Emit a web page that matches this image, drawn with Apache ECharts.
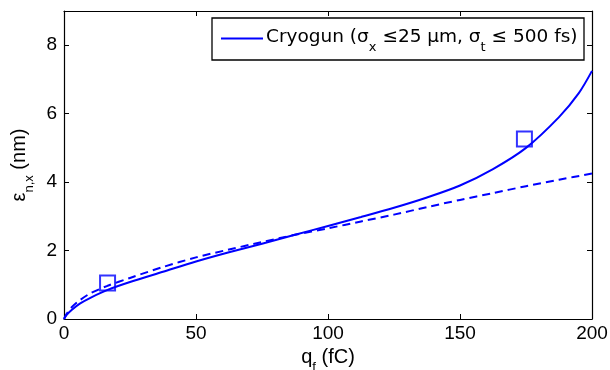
<!DOCTYPE html>
<html>
<head>
<meta charset="utf-8">
<script src="https://cdn.jsdelivr.net/npm/echarts@6/dist/echarts.min.js"></script>
<style>html,body{margin:0;padding:0;background:#fff}#c{width:610px;height:370px}</style>
</head>
<body>
<div id="c"></div>
<script>
var solidQ = [0, 1, 3, 6, 10, 16.5, 25, 37.5, 50, 62.5, 75, 87.5, 100, 112.5, 125, 137.5, 150, 162.5, 175, 187.5, 195, 200];
var solidE = [0, 0.12, 0.27, 0.45, 0.62, 0.85, 1.08, 1.38, 1.68, 1.95, 2.2, 2.46, 2.72, 2.98, 3.25, 3.55, 3.9, 4.38, 5.0, 5.9, 6.6, 7.25];
var dashQ = [0, 1, 3, 6, 10, 16.5, 25, 37.5, 50, 62.5, 75, 87.5, 100, 112.5, 125, 137.5, 150, 162.5, 175, 187.5, 200];
var dashE = [0, 0.15, 0.35, 0.55, 0.75, 0.97, 1.2, 1.52, 1.8, 2.03, 2.25, 2.46, 2.65, 2.85, 3.05, 3.27, 3.48, 3.68, 3.88, 4.07, 4.25];
var markQ = [16.5, 174.4];
var markE = [1.05, 5.26];
var xTicks = [0, 50, 100, 150, 200];
var yTicks = [0, 2, 4, 6, 8];

function pairs(a, b) { return a.map(function (v, i) { return [v, b[i]]; }); }
var FONT = 'Liberation Sans, Arial, sans-serif';
var LFONT = 'DejaVu Sans, sans-serif';
var BLUE = '#0000ff';
var FS = 19;

var chart = echarts.init(document.getElementById('c'), null, {renderer: 'canvas'});
function axisCommon() {
  return {
    axisLine: {show: true, onZero: false, lineStyle: {color: '#000', width: 1.2}},
    axisTick: {show: true, inside: true, length: 5, lineStyle: {color: '#000', width: 1}},
    splitLine: {show: false}
  };
}
function rich(font, size) {
  return {
    a: {fontFamily: font, fontSize: size, color: '#000', lineHeight: 21, verticalAlign: 'top'},
    s: {fontFamily: font, fontSize: 13, color: '#000', lineHeight: 13, padding: [13, 0, 0, 0], verticalAlign: 'top'}
  };
}
chart.setOption({
  animation: false,
  backgroundColor: '#fff',
  grid: {left: 64, right: 18, top: 11, bottom: 51, containLabel: false, outerBoundsMode: 'none'},
  xAxis: [
    Object.assign({
      type: 'value', min: xTicks[0], max: xTicks[xTicks.length - 1], interval: 50,
      position: 'bottom',
      name: '{a|q}{s|f}{a| (fC)}', nameLocation: 'middle', nameGap: 18,
      nameTextStyle: {rich: rich(FONT, 20)},
      axisLabel: {fontFamily: FONT, fontSize: FS, color: '#000', margin: 5}
    }, axisCommon()),
    Object.assign({
      type: 'value', min: 0, max: 200, interval: 50, position: 'top',
      axisLabel: {show: false}
    }, axisCommon())
  ],
  yAxis: [
    Object.assign({
      type: 'value', min: yTicks[0], max: 9, interval: 2,
      position: 'left',
      name: '{a|ε}{s|n,x}{a| (nm)}', nameLocation: 'middle', nameGap: 30, nameRotate: 90,
      nameTextStyle: {rich: rich(FONT, 20)},
      axisLabel: {fontFamily: FONT, fontSize: FS, color: '#000', margin: 7, showMaxLabel: false,
        formatter: function (v) { return yTicks.indexOf(v) >= 0 ? String(v) : ''; }}
    }, axisCommon()),
    Object.assign({
      type: 'value', min: 0, max: 9, interval: 2, position: 'right',
      axisLabel: {show: false}
    }, axisCommon())
  ],
  legend: {
    data: [{name: 'Cryogun', icon: 'rect'}],
    left: 221, top: 28, z: 20,
    itemWidth: 42, itemHeight: 2, itemGap: 0,
    padding: 0,
    formatter: function () { return '{a|Cryogun (σ}{s|x}{a| ≤25 μm, σ}{s|t}{a| ≤ 500 fs)}'; },
    textStyle: {padding: [0, 0, 0, -2], rich: rich(LFONT, 18.5)}
  },
  graphic: [{
    type: 'rect', shape: {x: 212, y: 18, width: 372, height: 42},
    style: {fill: '#fff', stroke: '#000', lineWidth: 1.3}, z: 5, silent: true
  }],
  series: [
    {name: 'Cryogun', type: 'line', data: pairs(solidQ, solidE), smooth: 0.3, showSymbol: false,
     lineStyle: {color: BLUE, width: 2}, itemStyle: {color: BLUE}, z: 3},
    {name: 'dashed', type: 'line', data: pairs(dashQ, dashE), smooth: 0.3, showSymbol: false,
     lineStyle: {color: BLUE, width: 2, type: [8, 5]}, itemStyle: {color: BLUE}, z: 3},
    {name: 'points', type: 'scatter', data: pairs(markQ, markE), symbol: 'rect', symbolSize: 15,
     itemStyle: {color: 'rgba(0,0,0,0)', borderColor: BLUE, borderWidth: 2}, z: 4}
  ]
});
</script>
</body>
</html>
